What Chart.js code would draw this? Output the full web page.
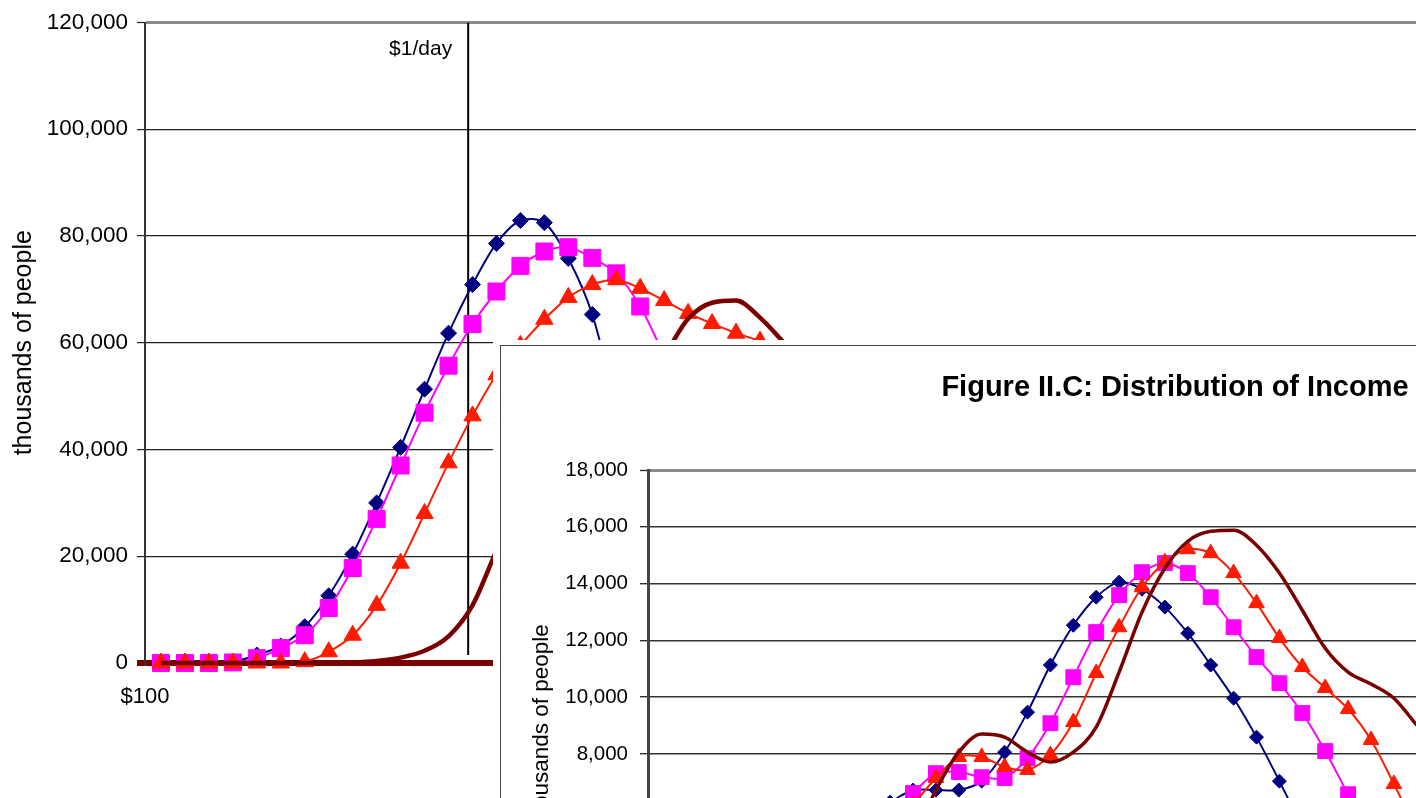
<!DOCTYPE html>
<html>
<head>
<meta charset="utf-8">
<script src="https://cdn.jsdelivr.net/npm/chart.js@4"></script>
<style>
  html, body { margin: 0; padding: 0; background: #fff; overflow: hidden; width: 1416px; height: 798px; }
  #mainChart { position: absolute; left: 0; top: 0; }
  #insetWrap { position: absolute; left: 493px; top: 340px; width: 1400px; height: 900px; background: #fff; }
  #insetBox { position: absolute; left: 7px; top: 5px; width: 1348px; height: 700px; border: 1px solid #444; background: #fff; }
  #insetChart { display: block; }
</style>
</head>
<body>
<canvas id="mainChart" width="1460" height="798"></canvas>
<div id="insetWrap"><div id="insetBox"><canvas id="insetChart" width="1348" height="700"></canvas></div></div>
<script>
// ---- main chart data (thousands of people, one value per income bracket from $100 up)
const mainBlue  = [0, 0, 0, 200, 1500, 3200, 6800, 12600, 20400, 30000, 40400, 51300, 61800, 70900, 78600, 82900, 82500, 75800, 65300, 48000, 32000, 19000, 10000, 5000, 2000, 800];
const mainPink  = [0, 0, 0, 100, 900, 2800, 5200, 10300, 17800, 27000, 37000, 46900, 55700, 63500, 69600, 74400, 77100, 77900, 75900, 73000, 66800, 57500, 47000, 36000, 26000, 17000, 10000];
const mainRed   = [0, 0, 0, 0, 0, 0, 250, 2100, 5200, 10800, 18700, 28000, 37500, 46300, 54000, 59500, 64400, 68500, 70900, 71800, 70200, 67900, 65500, 63600, 61800, 60300, 58000, 55000, 51000];
const mainBrown = [0, 0, 0, 0, 0, 0, 0, 0, 100, 400, 1000, 2300, 5000, 10800, 21000, 30000, 35000, 36000, 38000, 44000, 51000, 57500, 64500, 67500, 67900, 64700, 60000, 55000];
const mainYTicks = [0, 20000, 40000, 60000, 80000, 100000, 120000];
const firstBracketLabel = '$100';
const dollarADay = 12.82;          // bracket position of $1/day
const dollarADayLabel = '$1/day';

// ---- inset chart data (Figure II.C), first value is bracket index insetStart
const insetStart = 10;
const insetBlue  = [6300, 6725, 6725, 6725, 7040, 8060, 9470, 11130, 12530, 13520, 14050, 13800, 13170, 12250, 11130, 9960, 8590, 7040, 5400];
const insetPink  = [5900, 6620, 7320, 7360, 7180, 7150, 7850, 9080, 10700, 12290, 13590, 14400, 14720, 14370, 13520, 12460, 11410, 10490, 9440, 8100, 6580, 5200];
const insetRed   = [null, 6200, 7150, 7890, 7890, 7540, 7430, 7960, 9120, 10850, 12460, 13870, 14750, 15210, 15070, 14370, 13310, 12080, 11060, 10320, 9580, 8490, 6940, 5300];
const insetBrown = [null, 5000, 6720, 8060, 8700, 8590, 8060, 7710, 8060, 8940, 10880, 12990, 14540, 15490, 15840, 15880, 15350, 14370, 13060, 11720, 10880, 10460, 9960, 9010];
const insetYTicks = [0, 2000, 4000, 6000, 8000, 10000, 12000, 14000, 16000, 18000];
const insetTitle = 'Figure II.C: Distribution of Income';
const yTitle = 'thousands of people';

const FONT = 'Liberation Sans, Arial, sans-serif';
const BLUE = '#000080', PINK = '#FF00FF', RED = '#FF1A00', BROWN = '#7A0000';

function toPoints(values, start) {
    return values.map((v, i) => ({ x: i + start, y: v })).filter(p => p.y !== null);
}

function markerSeries(values, start, color, style, radius, order) {
    return {
        data: toPoints(values, start),
        borderColor: color,
        backgroundColor: color,
        borderWidth: 2,
        pointStyle: style,
        pointRadius: radius,
        pointBackgroundColor: color,
        pointBorderColor: color,
        pointBorderWidth: 1,
        tension: 0.3,
        clip: false,
        order: order
    };
}

function smoothSeries(values, start, width) {
    return {
        data: toPoints(values, start),
        borderColor: BROWN,
        borderWidth: width,
        pointRadius: 0,
        cubicInterpolationMode: 'monotone',
        clip: false,
        order: 1
    };
}

// stretch the x range so that one bracket takes `spacing` pixels
function fitBracketSpacing(chart, spacing) {
    const area = chart.chartArea;
    const x = chart.options.scales.x;
    x.max = x.min + (area.right - area.left) / spacing;
    chart.update();
}

// label next to the $1/day line
const dayLabelPlugin = {
    id: 'dayLabel',
    afterDatasetsDraw(chart) {
        const { ctx, scales } = chart;
        ctx.save();
        ctx.font = '21px ' + FONT;
        ctx.fillStyle = '#000';
        ctx.textAlign = 'right';
        ctx.textBaseline = 'middle';
        ctx.fillText(dollarADayLabel, scales.x.getPixelForValue(dollarADay) - 16, scales.y.getPixelForValue(115000));
        ctx.restore();
    }
};

const mainChart = new Chart(document.getElementById('mainChart'), {
    type: 'line',
    data: {
        datasets: [
            {
                data: [{ x: dollarADay, y: 1500 }, { x: dollarADay, y: 120000 }],
                borderColor: '#000', borderWidth: 2, pointRadius: 0, order: 10
            },
            markerSeries(mainBlue, 0, BLUE, 'rectRot', 8, 5),
            markerSeries(mainPink, 0, PINK, 'rect', 12, 4),
            markerSeries(mainRed, 0, RED, 'triangle', 10, 3),
            smoothSeries(mainBrown, 0, 4.5)
        ]
    },
    options: {
        responsive: false,
        animation: false,
        layout: { padding: { top: 20, right: 0, bottom: 0, left: 0 } },
        plugins: { legend: { display: false }, tooltip: { enabled: false } },
        scales: {
            x: {
                type: 'linear', min: -0.668, max: 52.38,
                grid: { display: false, drawTicks: false },
                border: { display: false },
                afterBuildTicks: s => { s.ticks = [{ value: s.min }]; },
                ticks: { callback: () => firstBracketLabel, color: '#000', font: { family: FONT, size: 22 }, padding: 21, maxRotation: 0 },
                afterFit: s => { s.height = 135; }
            },
            y: {
                min: 0, max: 120000,
                afterBuildTicks: s => { s.ticks = mainYTicks.map(v => ({ value: v })); },
                ticks: { callback: v => v.toLocaleString('en-US'), color: '#000', font: { family: FONT, size: 22.5 }, padding: 9 },
                grid: {
                    color: c => c.tick.value === 0 ? BROWN : (c.tick.value === 120000 ? '#8a8a8a' : '#222'),
                    lineWidth: c => c.tick.value === 0 ? 6 : (c.tick.value === 120000 ? 3 : 1.2),
                    tickColor: c => c.tick.value === 0 ? BROWN : '#222',
                    tickWidth: c => c.tick.value === 0 ? 6 : 1.2,
                    tickLength: 8
                },
                border: { color: '#333', width: 2 },
                title: { display: true, text: yTitle, color: '#000', font: { family: FONT, size: 25 }, padding: { top: 9 } },
                afterFit: s => { s.width = 145; }
            }
        }
    },
    plugins: [dayLabelPlugin]
});
fitBracketSpacing(mainChart, 23.96);

const insetChart = new Chart(document.getElementById('insetChart'), {
    type: 'line',
    data: {
        datasets: [
            markerSeries(insetBlue, insetStart, BLUE, 'rectRot', 7, 5),
            markerSeries(insetPink, insetStart, PINK, 'rect', 10.5, 4),
            markerSeries(insetRed, insetStart, RED, 'triangle', 9, 3),
            smoothSeries(insetBrown, insetStart, 3.5)
        ]
    },
    options: {
        responsive: false,
        animation: false,
        layout: { padding: 0 },
        plugins: {
            legend: { display: false },
            tooltip: { enabled: false },
            title: {
                display: true, text: insetTitle, color: '#000',
                font: { family: FONT, size: 29, weight: 'bold' },
                padding: { top: 25, bottom: 64.2 }
            }
        },
        scales: {
            x: {
                type: 'linear', min: -0.572, max: 51.87,
                grid: { display: false, drawTicks: false },
                border: { display: false },
                ticks: { display: false },
                afterFit: s => { s.height = 65; }
            },
            y: {
                min: 0, max: 18000,
                afterBuildTicks: s => { s.ticks = insetYTicks.map(v => ({ value: v })); },
                ticks: { callback: v => v.toLocaleString('en-US'), color: '#000', font: { family: FONT, size: 20.5 }, padding: 12 },
                grid: {
                    color: c => c.tick.value === 18000 ? '#8a8a8a' : '#333',
                    lineWidth: c => c.tick.value === 18000 ? 3 : 1.4,
                    tickColor: '#333',
                    tickWidth: 1.4,
                    tickLength: 8
                },
                border: { color: '#444', width: 3 },
                title: { display: true, text: yTitle, color: '#000', font: { family: FONT, size: 22.5 }, padding: { top: 27.5 } },
                afterFit: s => { s.width = 147; }
            }
        }
    }
});
fitBracketSpacing(insetChart, 22.9);
</script>
</body>
</html>
